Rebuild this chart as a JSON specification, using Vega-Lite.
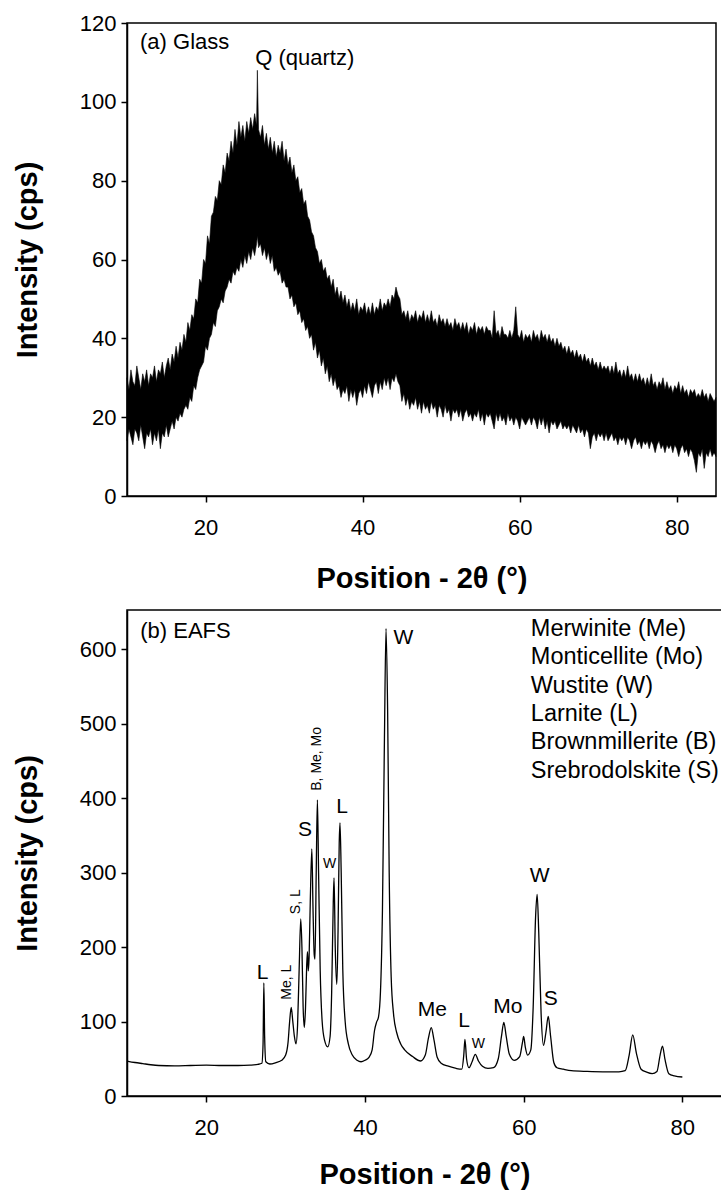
{
"$schema": "https://vega.github.io/schema/vega-lite/v6.json",
"padding": {"left": 12, "top": 11, "right": 0, "bottom": 0},
"config": {
 "font": "Liberation Sans",
 "view": {"stroke": "#000", "strokeWidth": 1.5},
 "axis": {"grid": false, "domainColor": "#000", "domainWidth": 1.5, "tickColor": "#000", "tickWidth": 1.5, "tickSize": 6, "labelFont": "Liberation Sans", "labelFontSize": 22, "labelColor": "#000", "titleFont": "Liberation Sans", "titleFontSize": 29, "titleFontWeight": "bold", "titleColor": "#000"},
 "axisX": {"labelPadding": 15, "titlePadding": 26},
 "axisY": {"labelPadding": 5, "titlePadding": 37},
 "text": {"font": "Liberation Sans", "color": "#000"}
},
"datasets": {
"glass": [
{"x":10,"lo":14,"hi":30},{"x":10.25,"lo":17,"hi":27},{"x":10.5,"lo":15,"hi":32},{"x":10.75,"lo":13,"hi":29},{"x":11,"lo":17,"hi":28},{"x":11.25,"lo":16,"hi":33},{"x":11.5,"lo":14,"hi":30},{"x":11.75,"lo":18,"hi":27},{"x":12,"lo":15,"hi":31},{"x":12.25,"lo":12,"hi":29},{"x":12.5,"lo":16,"hi":32},{"x":12.75,"lo":15,"hi":28},{"x":13,"lo":17,"hi":31},{"x":13.25,"lo":13,"hi":30},{"x":13.5,"lo":16,"hi":33},{"x":13.75,"lo":14,"hi":29},{"x":14,"lo":17,"hi":32},{"x":14.25,"lo":12,"hi":31},{"x":14.5,"lo":16,"hi":34},{"x":14.75,"lo":15,"hi":30},
{"x":15,"lo":18,"hi":33},{"x":15.25,"lo":15,"hi":35},{"x":15.5,"lo":17,"hi":32},{"x":15.75,"lo":19,"hi":36},{"x":16,"lo":17,"hi":34},{"x":16.25,"lo":20,"hi":38},{"x":16.5,"lo":19,"hi":35},{"x":16.75,"lo":21,"hi":39},{"x":17,"lo":20,"hi":37},{"x":17.25,"lo":22,"hi":41},{"x":17.5,"lo":23,"hi":39},{"x":17.75,"lo":22,"hi":44},{"x":18,"lo":25,"hi":42},{"x":18.25,"lo":24,"hi":46},{"x":18.5,"lo":28,"hi":45},{"x":18.75,"lo":27,"hi":50},{"x":19,"lo":30,"hi":49},{"x":19.25,"lo":32,"hi":55},{"x":19.5,"lo":33,"hi":54},{"x":19.75,"lo":34,"hi":60},
{"x":20,"lo":38,"hi":59},{"x":20.25,"lo":37,"hi":66},{"x":20.5,"lo":40,"hi":64},{"x":20.75,"lo":41,"hi":71},{"x":21,"lo":44,"hi":72},{"x":21.25,"lo":43,"hi":76},{"x":21.5,"lo":47,"hi":75},{"x":21.75,"lo":48,"hi":80},{"x":22,"lo":50,"hi":79},{"x":22.25,"lo":49,"hi":84},{"x":22.5,"lo":52,"hi":82},{"x":22.75,"lo":53,"hi":87},{"x":23,"lo":55,"hi":85},{"x":23.25,"lo":54,"hi":90},{"x":23.5,"lo":57,"hi":87},{"x":23.75,"lo":56,"hi":93},{"x":24,"lo":58,"hi":89},{"x":24.25,"lo":57,"hi":95},{"x":24.5,"lo":60,"hi":91},{"x":24.75,"lo":58,"hi":94},
{"x":25,"lo":61,"hi":90},{"x":25.25,"lo":59,"hi":95},{"x":25.5,"lo":62,"hi":92},{"x":25.75,"lo":60,"hi":96},{"x":26,"lo":63,"hi":93},{"x":26.25,"lo":61,"hi":97},{"x":26.5,"lo":64,"hi":94},{"x":26.6,"lo":66,"hi":108},{"x":26.75,"lo":63,"hi":93},{"x":27,"lo":64,"hi":91},{"x":27.25,"lo":61,"hi":94},{"x":27.5,"lo":63,"hi":89},{"x":27.75,"lo":60,"hi":92},{"x":28,"lo":62,"hi":88},{"x":28.25,"lo":59,"hi":91},{"x":28.5,"lo":61,"hi":87},{"x":28.75,"lo":57,"hi":90},{"x":29,"lo":58,"hi":86},{"x":29.25,"lo":56,"hi":89},{"x":29.5,"lo":57,"hi":87},{"x":29.75,"lo":54,"hi":90},
{"x":30,"lo":55,"hi":85},{"x":30.25,"lo":53,"hi":88},{"x":30.5,"lo":53,"hi":84},{"x":30.75,"lo":50,"hi":86},{"x":31,"lo":51,"hi":82},{"x":31.25,"lo":48,"hi":84},{"x":31.5,"lo":49,"hi":80},{"x":31.75,"lo":46,"hi":81},{"x":32,"lo":47,"hi":77},{"x":32.25,"lo":44,"hi":78},{"x":32.5,"lo":45,"hi":74},{"x":32.75,"lo":42,"hi":75},{"x":33,"lo":43,"hi":71},{"x":33.25,"lo":40,"hi":70},{"x":33.5,"lo":41,"hi":67},{"x":33.75,"lo":37,"hi":66},{"x":34,"lo":39,"hi":63},{"x":34.25,"lo":35,"hi":62},{"x":34.5,"lo":37,"hi":59},{"x":34.75,"lo":33,"hi":60},
{"x":35,"lo":35,"hi":57},{"x":35.25,"lo":31,"hi":58},{"x":35.5,"lo":33,"hi":55},{"x":35.75,"lo":29,"hi":56},{"x":36,"lo":31,"hi":53},{"x":36.25,"lo":28,"hi":55},{"x":36.5,"lo":30,"hi":51},{"x":36.75,"lo":27,"hi":53},{"x":37,"lo":28,"hi":50},{"x":37.25,"lo":25,"hi":52},{"x":37.5,"lo":27,"hi":49},{"x":37.75,"lo":26,"hi":51},{"x":38,"lo":28,"hi":48},{"x":38.25,"lo":24,"hi":50},{"x":38.5,"lo":27,"hi":47},{"x":38.75,"lo":25,"hi":49},{"x":39,"lo":27,"hi":47},{"x":39.25,"lo":23,"hi":50},{"x":39.5,"lo":26,"hi":46},{"x":39.75,"lo":27,"hi":48},
{"x":40,"lo":25,"hi":47},{"x":40.25,"lo":28,"hi":49},{"x":40.5,"lo":26,"hi":46},{"x":40.75,"lo":29,"hi":48},{"x":41,"lo":27,"hi":46},{"x":41.25,"lo":25,"hi":49},{"x":41.5,"lo":28,"hi":46},{"x":41.75,"lo":29,"hi":48},{"x":42,"lo":26,"hi":47},{"x":42.25,"lo":29,"hi":50},{"x":42.5,"lo":27,"hi":47},{"x":42.75,"lo":30,"hi":49},{"x":43,"lo":28,"hi":48},{"x":43.25,"lo":30,"hi":50},{"x":43.5,"lo":27,"hi":48},{"x":43.75,"lo":30,"hi":51},{"x":44,"lo":29,"hi":50},{"x":44.25,"lo":31,"hi":53},{"x":44.5,"lo":29,"hi":51},{"x":44.75,"lo":28,"hi":50},
{"x":45,"lo":24,"hi":46},{"x":45.25,"lo":26,"hi":47},{"x":45.5,"lo":23,"hi":45},{"x":45.75,"lo":25,"hi":47},{"x":46,"lo":22,"hi":44},{"x":46.25,"lo":24,"hi":46},{"x":46.5,"lo":23,"hi":45},{"x":46.75,"lo":25,"hi":47},{"x":47,"lo":22,"hi":44},{"x":47.25,"lo":24,"hi":46},{"x":47.5,"lo":21,"hi":45},{"x":47.75,"lo":24,"hi":47},{"x":48,"lo":22,"hi":44},{"x":48.25,"lo":23,"hi":46},{"x":48.5,"lo":21,"hi":44},{"x":48.75,"lo":24,"hi":47},{"x":49,"lo":22,"hi":44},{"x":49.25,"lo":23,"hi":45},{"x":49.5,"lo":20,"hi":43},{"x":49.75,"lo":23,"hi":46},
{"x":50,"lo":22,"hi":44},{"x":50.25,"lo":20,"hi":45},{"x":50.5,"lo":23,"hi":43},{"x":50.75,"lo":21,"hi":45},{"x":51,"lo":22,"hi":43},{"x":51.25,"lo":19,"hi":44},{"x":51.5,"lo":22,"hi":42},{"x":51.75,"lo":21,"hi":45},{"x":52,"lo":22,"hi":43},{"x":52.25,"lo":20,"hi":44},{"x":52.5,"lo":22,"hi":42},{"x":52.75,"lo":19,"hi":44},{"x":53,"lo":21,"hi":42},{"x":53.25,"lo":22,"hi":44},{"x":53.5,"lo":20,"hi":41},{"x":53.75,"lo":21,"hi":43},{"x":54,"lo":19,"hi":42},{"x":54.25,"lo":21,"hi":44},{"x":54.5,"lo":20,"hi":41},{"x":54.75,"lo":22,"hi":43},
{"x":55,"lo":19,"hi":42},{"x":55.25,"lo":21,"hi":43},{"x":55.5,"lo":18,"hi":41},{"x":55.75,"lo":21,"hi":43},{"x":56,"lo":20,"hi":42},{"x":56.25,"lo":21,"hi":42},{"x":56.5,"lo":19,"hi":40},{"x":56.75,"lo":17,"hi":47},{"x":57,"lo":21,"hi":41},{"x":57.25,"lo":19,"hi":42},{"x":57.5,"lo":21,"hi":40},{"x":57.75,"lo":19,"hi":43},{"x":58,"lo":20,"hi":41},{"x":58.25,"lo":18,"hi":41},{"x":58.5,"lo":21,"hi":40},{"x":58.75,"lo":19,"hi":42},{"x":59,"lo":20,"hi":40},{"x":59.25,"lo":18,"hi":42},{"x":59.5,"lo":20,"hi":48},{"x":59.75,"lo":19,"hi":41},
{"x":60,"lo":17,"hi":40},{"x":60.25,"lo":20,"hi":42},{"x":60.5,"lo":19,"hi":39},{"x":60.75,"lo":18,"hi":41},{"x":61,"lo":19,"hi":40},{"x":61.25,"lo":20,"hi":41},{"x":61.5,"lo":18,"hi":39},{"x":61.75,"lo":20,"hi":42},{"x":62,"lo":19,"hi":40},{"x":62.25,"lo":17,"hi":41},{"x":62.5,"lo":20,"hi":39},{"x":62.75,"lo":18,"hi":42},{"x":63,"lo":20,"hi":40},{"x":63.25,"lo":17,"hi":41},{"x":63.5,"lo":19,"hi":39},{"x":63.75,"lo":16,"hi":41},{"x":64,"lo":19,"hi":39},{"x":64.25,"lo":18,"hi":40},{"x":64.5,"lo":19,"hi":38},{"x":64.75,"lo":17,"hi":40},
{"x":65,"lo":18,"hi":38},{"x":65.25,"lo":19,"hi":39},{"x":65.5,"lo":17,"hi":37},{"x":65.75,"lo":18,"hi":38},{"x":66,"lo":17,"hi":36},{"x":66.25,"lo":18,"hi":38},{"x":66.5,"lo":16,"hi":36},{"x":66.75,"lo":18,"hi":37},{"x":67,"lo":17,"hi":35},{"x":67.25,"lo":16,"hi":37},{"x":67.5,"lo":18,"hi":35},{"x":67.75,"lo":16,"hi":36},{"x":68,"lo":17,"hi":34},{"x":68.25,"lo":15,"hi":36},{"x":68.5,"lo":17,"hi":34},{"x":68.75,"lo":16,"hi":35},{"x":69,"lo":12,"hi":33},{"x":69.25,"lo":15,"hi":35},{"x":69.5,"lo":16,"hi":33},{"x":69.75,"lo":14,"hi":34},
{"x":70,"lo":16,"hi":32},{"x":70.25,"lo":15,"hi":34},{"x":70.5,"lo":16,"hi":32},{"x":70.75,"lo":14,"hi":33},{"x":71,"lo":16,"hi":32},{"x":71.25,"lo":14,"hi":33},{"x":71.5,"lo":15,"hi":31},{"x":71.75,"lo":16,"hi":33},{"x":72,"lo":14,"hi":31},{"x":72.25,"lo":15,"hi":34},{"x":72.5,"lo":13,"hi":31},{"x":72.75,"lo":15,"hi":32},{"x":73,"lo":14,"hi":30},{"x":73.25,"lo":15,"hi":32},{"x":73.5,"lo":13,"hi":30},{"x":73.75,"lo":15,"hi":33},{"x":74,"lo":14,"hi":30},{"x":74.25,"lo":12,"hi":31},{"x":74.5,"lo":14,"hi":29},{"x":74.75,"lo":15,"hi":31},
{"x":75,"lo":13,"hi":29},{"x":75.25,"lo":14,"hi":31},{"x":75.5,"lo":12,"hi":29},{"x":75.75,"lo":14,"hi":30},{"x":76,"lo":13,"hi":28},{"x":76.25,"lo":14,"hi":30},{"x":76.5,"lo":12,"hi":28},{"x":76.75,"lo":14,"hi":31},{"x":77,"lo":13,"hi":28},{"x":77.25,"lo":11,"hi":29},{"x":77.5,"lo":13,"hi":27},{"x":77.75,"lo":14,"hi":29},{"x":78,"lo":12,"hi":28},{"x":78.25,"lo":13,"hi":30},{"x":78.5,"lo":11,"hi":27},{"x":78.75,"lo":13,"hi":29},{"x":79,"lo":12,"hi":27},{"x":79.25,"lo":13,"hi":28},{"x":79.5,"lo":11,"hi":26},{"x":79.75,"lo":13,"hi":28},
{"x":80,"lo":12,"hi":27},{"x":80.25,"lo":10,"hi":29},{"x":80.5,"lo":12,"hi":26},{"x":80.75,"lo":13,"hi":28},{"x":81,"lo":11,"hi":26},{"x":81.25,"lo":12,"hi":27},{"x":81.5,"lo":10,"hi":25},{"x":81.75,"lo":12,"hi":27},{"x":82,"lo":11,"hi":26},{"x":82.25,"lo":9,"hi":27},{"x":82.5,"lo":6,"hi":25},{"x":82.75,"lo":11,"hi":26},{"x":83,"lo":10,"hi":25},{"x":83.25,"lo":12,"hi":27},{"x":83.5,"lo":7,"hi":25},{"x":83.75,"lo":11,"hi":26},{"x":84,"lo":10,"hi":24},{"x":84.25,"lo":12,"hi":26},{"x":84.5,"lo":10,"hi":25},{"x":84.75,"lo":11,"hi":24},{"x":85,"lo":10,"hi":25}
],
"eafs": [
{"x":10,"y":47},{"x":11,"y":45},{"x":12,"y":43.5},{"x":13,"y":42},{"x":14,"y":41},{"x":16,"y":40.5},{"x":18,"y":41},{"x":20,"y":41.5},{"x":22,"y":41},{"x":24,"y":41},{"x":25.5,"y":41.5},{"x":26.5,"y":42.5},{"x":27,"y":44},{"x":27.15,"y":70},{"x":27.25,"y":152},{"x":27.35,"y":80},{"x":27.5,"y":46},{"x":28,"y":43},{"x":28.8,"y":45},{"x":29.5,"y":48},{"x":30,"y":55},{"x":30.3,"y":72},{"x":30.5,"y":100},{"x":30.7,"y":119},{"x":30.9,"y":100},{"x":31.1,"y":80},{"x":31.3,"y":70},{"x":31.5,"y":95},{"x":31.7,"y":170},{"x":31.9,"y":238},{"x":32.05,"y":200},{"x":32.2,"y":120},{"x":32.35,"y":92},{"x":32.5,"y":118},{"x":32.65,"y":175},{"x":32.75,"y":194},{"x":32.85,"y":168},{"x":32.95,"y":185},{"x":33.1,"y":260},{"x":33.3,"y":332},{"x":33.45,"y":250},{"x":33.6,"y":190},{"x":33.7,"y":184},{"x":33.85,"y":300},{"x":34,"y":398},{"x":34.15,"y":300},{"x":34.35,"y":170},{"x":34.6,"y":100},{"x":34.9,"y":75},{"x":35.3,"y":66},{"x":35.6,"y":80},{"x":35.8,"y":140},{"x":36,"y":260},{"x":36.1,"y":293},{"x":36.25,"y":200},{"x":36.45,"y":150},{"x":36.6,"y":220},{"x":36.75,"y":340},{"x":36.85,"y":367},{"x":37,"y":300},{"x":37.2,"y":170},{"x":37.5,"y":100},{"x":37.9,"y":70},{"x":38.4,"y":55},{"x":39,"y":48},{"x":39.5,"y":46},{"x":40,"y":48},{"x":40.5,"y":52},{"x":40.9,"y":62},{"x":41.2,"y":88},{"x":41.45,"y":99},{"x":41.7,"y":106},{"x":41.95,"y":140},{"x":42.2,"y":250},{"x":42.45,"y":480},{"x":42.65,"y":628},{"x":42.85,"y":520},{"x":43.05,"y":300},{"x":43.3,"y":160},{"x":43.6,"y":110},{"x":44,"y":85},{"x":44.5,"y":70},{"x":45,"y":62},{"x":46,"y":53},{"x":47,"y":47},{"x":47.6,"y":55},{"x":48,"y":78},{"x":48.35,"y":92},{"x":48.7,"y":75},{"x":49.1,"y":52},{"x":49.6,"y":44},{"x":50.5,"y":40},{"x":51.5,"y":37},{"x":52.2,"y":36},{"x":52.45,"y":55},{"x":52.6,"y":76},{"x":52.8,"y":50},{"x":53.1,"y":38},{"x":53.5,"y":46},{"x":53.9,"y":56},{"x":54.3,"y":47},{"x":54.8,"y":40},{"x":55.5,"y":37},{"x":56.2,"y":38},{"x":56.8,"y":50},{"x":57.2,"y":80},{"x":57.5,"y":99},{"x":57.8,"y":80},{"x":58.2,"y":56},{"x":58.8,"y":48},{"x":59.5,"y":53},{"x":59.85,"y":72},{"x":60,"y":80},{"x":60.2,"y":66},{"x":60.5,"y":55},{"x":60.9,"y":62},{"x":61.2,"y":120},{"x":61.5,"y":240},{"x":61.7,"y":271},{"x":61.9,"y":220},{"x":62.2,"y":110},{"x":62.5,"y":68},{"x":62.8,"y":85},{"x":63.1,"y":107},{"x":63.4,"y":80},{"x":63.8,"y":45},{"x":64.2,"y":38},{"x":65,"y":36},{"x":66,"y":34},{"x":68,"y":33},{"x":70,"y":32.5},{"x":72,"y":32.5},{"x":72.8,"y":34},{"x":73.3,"y":55},{"x":73.75,"y":82},{"x":74.2,"y":58},{"x":74.8,"y":36},{"x":75.5,"y":32},{"x":76.2,"y":30},{"x":76.8,"y":33},{"x":77.2,"y":55},{"x":77.5,"y":67},{"x":77.8,"y":50},{"x":78.3,"y":30},{"x":79,"y":27},{"x":80,"y":25.5}
]
},
"columns": 1,
"spacing": 15,
"concat": [
{
 "width": 589, "height": 473,
 "layer": [
  {"data": {"name": "glass"},
   "mark": {"type": "area", "fill": "#000", "stroke": "#000", "strokeWidth": 0.6},
   "encoding": {
    "x": {"field": "x", "type": "quantitative", "scale": {"domain": [10, 85], "nice": false}, "axis": {"values": [20, 40, 60, 80], "title": "Position - 2θ (°)"}},
    "y": {"field": "hi", "type": "quantitative", "scale": {"domain": [0, 120], "nice": false}, "axis": {"values": [0, 20, 40, 60, 80, 100, 120], "title": "Intensity (cps)"}},
    "y2": {"field": "lo"}
   }},
  {"data": {"values": [{"x": 11.66, "y": 113.5, "t": "(a) Glass"}, {"x": 26.33, "y": 109.4, "t": "Q (quartz)"}]},
   "mark": {"type": "text", "align": "left", "baseline": "alphabetic", "fontSize": 22},
   "encoding": {"x": {"field": "x", "type": "quantitative"}, "y": {"field": "y", "type": "quantitative"}, "text": {"field": "t"}}}
 ]
},
{
 "width": 595, "height": 486,
 "layer": [
  {"data": {"name": "eafs"},
   "mark": {"type": "line", "color": "#000", "strokeWidth": 1.3, "interpolate": "monotone"},
   "encoding": {
    "x": {"field": "x", "type": "quantitative", "scale": {"domain": [10, 85], "nice": false}, "axis": {"values": [20, 40, 60, 80], "title": "Position - 2θ (°)", "titlePadding": 22}},
    "y": {"field": "y", "type": "quantitative", "scale": {"domain": [0, 653], "nice": false}, "axis": {"values": [0, 100, 200, 300, 400, 500, 600], "title": "Intensity (cps)"}}
   }},
  {"data": {"values": [{"x": 27.1, "y": 165, "t": "L"}, {"x": 32.45, "y": 357, "t": "S"}, {"x": 37.1, "y": 388, "t": "L"}, {"x": 44.85, "y": 615, "t": "W"}, {"x": 48.5, "y": 116, "t": "Me"}, {"x": 52.5, "y": 101, "t": "L"}, {"x": 58.0, "y": 119, "t": "Mo"}, {"x": 62.0, "y": 296, "t": "W"}, {"x": 63.4, "y": 131, "t": "S"}]},
   "mark": {"type": "text", "align": "center", "baseline": "middle", "fontSize": 21},
   "encoding": {"x": {"field": "x", "type": "quantitative"}, "y": {"field": "y", "type": "quantitative"}, "text": {"field": "t"}}},
  {"data": {"values": [{"x": 35.55, "y": 312, "t": "W"}, {"x": 54.3, "y": 70, "t": "W"}]},
   "mark": {"type": "text", "align": "center", "baseline": "middle", "fontSize": 14},
   "encoding": {"x": {"field": "x", "type": "quantitative"}, "y": {"field": "y", "type": "quantitative"}, "text": {"field": "t"}}},
  {"data": {"values": [{"x": 30.2, "y": 153, "t": "Me, L"}, {"x": 31.3, "y": 261, "t": "S, L"}, {"x": 33.9, "y": 453, "t": "B, Me, Mo"}]},
   "mark": {"type": "text", "align": "center", "baseline": "middle", "fontSize": 14, "angle": 270},
   "encoding": {"x": {"field": "x", "type": "quantitative"}, "y": {"field": "y", "type": "quantitative"}, "text": {"field": "t"}}},
  {"data": {"values": [{"x": 11.67, "y": 616, "t": "(b) EAFS"}]},
   "mark": {"type": "text", "align": "left", "baseline": "alphabetic", "fontSize": 22},
   "encoding": {"x": {"field": "x", "type": "quantitative"}, "y": {"field": "y", "type": "quantitative"}, "text": {"field": "t"}}},
  {"data": {"values": [{"x": 60.9, "y": 627.3, "t": "Merwinite (Me)"}, {"x": 60.9, "y": 589.3, "t": "Monticellite (Mo)"}, {"x": 60.9, "y": 551.2, "t": "Wustite (W)"}, {"x": 60.9, "y": 513.1, "t": "Larnite (L)"}, {"x": 60.9, "y": 475.0, "t": "Brownmillerite (B)"}, {"x": 60.9, "y": 436.9, "t": "Srebrodolskite (S)"}]},
   "mark": {"type": "text", "align": "left", "baseline": "middle", "fontSize": 23.5},
   "encoding": {"x": {"field": "x", "type": "quantitative"}, "y": {"field": "y", "type": "quantitative"}, "text": {"field": "t"}}}
 ]
}
]
}
